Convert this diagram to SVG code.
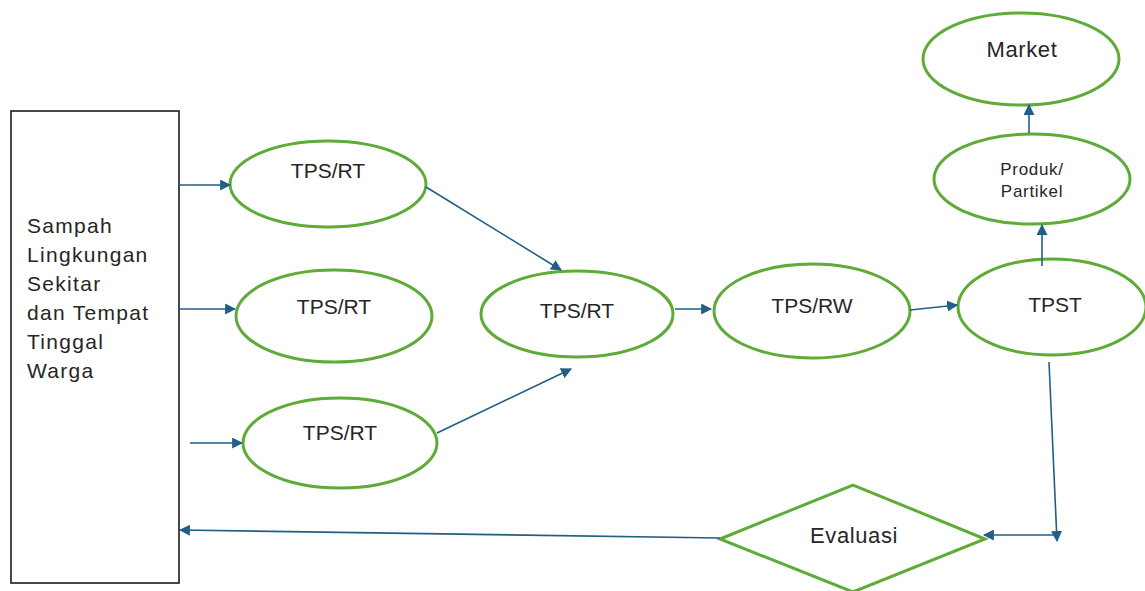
<svg xmlns="http://www.w3.org/2000/svg" width="1145" height="591" viewBox="0 0 1145 591">
<style>
.node{fill:#fff;stroke:#5fab38;stroke-width:3}
.lbl{font-family:"Liberation Sans",Arial,sans-serif;font-size:21px;fill:#262626;text-anchor:middle}
.big{font-size:22px;letter-spacing:0.6px}
.side{font-family:"Liberation Sans",Arial,sans-serif;font-size:21px;fill:#262626;letter-spacing:1.3px}
.small{font-size:17px;letter-spacing:0.7px}
.conn line{stroke:#215f86;stroke-width:1.6;fill:none}
</style>
<defs>
<marker id="ah" viewBox="0 0 10 10" refX="9" refY="5" markerWidth="11" markerHeight="11" markerUnits="userSpaceOnUse" orient="auto">
<path d="M0,0 L10,5 L0,10 z" fill="#215f86"/>
</marker>
</defs>
<rect x="0" y="0" width="1145" height="591" fill="#fff"/>
<g id="source">
<rect x="11" y="111" width="168" height="472" fill="#fff" stroke="#1a1a1a" stroke-width="1.6"/>
<text class="side" x="27" y="233">Sampah</text>
<text class="side" x="27" y="262">Lingkungan</text>
<text class="side" x="27" y="291">Sekitar</text>
<text class="side" x="27" y="320">dan Tempat</text>
<text class="side" x="27" y="349">Tinggal</text>
<text class="side" x="27" y="378">Warga</text>
</g>
<g id="tpsrt1"><ellipse class="node" cx="328" cy="184" rx="98" ry="43"/><text class="lbl" x="328" y="178">TPS/RT</text></g>
<g id="tpsrt2"><ellipse class="node" cx="334" cy="316" rx="98" ry="46"/><text class="lbl" x="334" y="314">TPS/RT</text></g>
<g id="tpsrt3"><ellipse class="node" cx="340" cy="443" rx="97" ry="45"/><text class="lbl" x="340" y="440">TPS/RT</text></g>
<g id="tpsrt4"><ellipse class="node" cx="577" cy="314" rx="96" ry="43"/><text class="lbl" x="577" y="318">TPS/RT</text></g>
<g id="tpsrw"><ellipse class="node" cx="812" cy="311" rx="98" ry="47"/><text class="lbl" x="812" y="313">TPS/RW</text></g>
<g id="tpst"><ellipse class="node" cx="1052" cy="307" rx="94" ry="48"/><text class="lbl" x="1055" y="312">TPST</text></g>
<g id="produk"><ellipse class="node" cx="1032" cy="179" rx="98" ry="45"/><text class="lbl small" x="1032" y="175">Produk/</text><text class="lbl small" x="1032" y="197">Partikel</text></g>
<g id="market"><ellipse class="node" cx="1021" cy="59" rx="98" ry="46"/><text class="lbl big" x="1022" y="57">Market</text></g>
<g id="evaluasi"><polygon class="node" points="720,539 853,485 985,539 853,592"/><text class="lbl big" x="854" y="543">Evaluasi</text></g>
<g class="conn" id="connectors">
<line x1="179" y1="185" x2="230" y2="185" marker-end="url(#ah)"/>
<line x1="179" y1="309" x2="235" y2="309" marker-end="url(#ah)"/>
<line x1="190" y1="443" x2="242" y2="443" marker-end="url(#ah)"/>
<line x1="426" y1="187" x2="561" y2="270" marker-end="url(#ah)"/>
<line x1="437" y1="433" x2="571" y2="369" marker-end="url(#ah)"/>
<line x1="675" y1="309" x2="711" y2="309" marker-end="url(#ah)"/>
<line x1="910" y1="310" x2="957" y2="305" marker-end="url(#ah)"/>
<line x1="1042" y1="266" x2="1042" y2="225" marker-end="url(#ah)"/>
<line x1="1029" y1="133" x2="1029" y2="105" marker-end="url(#ah)"/>
<line x1="1049" y1="362" x2="1057" y2="541" marker-end="url(#ah)"/>
<line x1="1057" y1="535" x2="984" y2="535" marker-end="url(#ah)"/>
<line x1="720" y1="538" x2="180" y2="530" marker-end="url(#ah)"/>
</g>
</svg>
